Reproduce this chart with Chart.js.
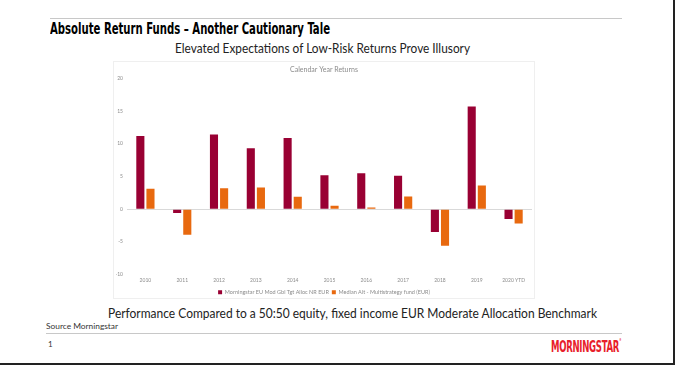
<!DOCTYPE html>
<html>
<head>
<meta charset="utf-8">
<script src="https://cdn.jsdelivr.net/npm/chart.js@4"></script>
<style>
  html, body { margin: 0; padding: 0; background: #fff; }
  #slide { position: relative; width: 675px; height: 365px; overflow: hidden; background: #fff; }
  .abs { position: absolute; white-space: nowrap; line-height: 1; }
  .rule { position: absolute; height: 1px; background: #c8c8c8; }
  #title { left: 50px; top: 19px; font: bold 16px "Liberation Sans Narrow", "DejaVu Sans Condensed", sans-serif; color: #000; }
  #subtitle { left: 175px; top: 40px; font: 13px Lato, "Open Sans", sans-serif; color: #222; }
  #panel { position: absolute; left: 113px; top: 61px; width: 422px; height: 238px; border: 1px solid #efefef; box-sizing: border-box; }
  #chartBox { position: absolute; left: 113px; top: 61px; width: 422px; height: 244px; }
  #caption { left: 108px; top: 305px; font: 13px Lato, "Open Sans", sans-serif; color: #222; }
  #source { left: 46px; top: 321px; font: 8px Lato, "Open Sans", sans-serif; color: #333; }
  #page { left: 48px; top: 339px; font: 8px Lato, "Open Sans", sans-serif; color: #333; }
  #logo { left: 551px; top: 337px; font: bold 16px "Liberation Sans Narrow", "DejaVu Sans Condensed", sans-serif; color: #e8202a; letter-spacing: -0.5px; }
  #logo sup { font-size: 4px; vertical-align: top; }
  #frameR { position: absolute; left: 673px; top: 0; width: 2px; height: 365px; background: #222; }
  #frameB { position: absolute; left: 0; top: 363px; width: 675px; height: 2px; background: #222; }
</style>
</head>
<body>
<div id="slide">
  <div class="rule" style="left:50px; top:18px; width:572px;"></div>
  <div id="title" class="abs" data-w="280">Absolute Return Funds – Another Cautionary Tale</div>
  <div id="subtitle" class="abs" data-w="295">Elevated Expectations of Low-Risk Returns Prove Illusory</div>
  <div id="panel"></div>
  <div id="chartBox"><canvas id="chart"></canvas></div>
  <div id="caption" class="abs" data-w="489">Performance Compared to a 50:50 equity, fixed income EUR Moderate Allocation Benchmark</div>
  <div id="source" class="abs" data-w="72">Source Morningstar</div>
  <div class="rule" style="left:46px; top:333px; width:576px;"></div>
  <div id="page" class="abs">1</div>
  <div id="logo" class="abs" data-w="70">MORNINGSTAR<sup>®</sup></div>
  <div id="frameR"></div>
  <div id="frameB"></div>
</div>
<script>
// Calendar year returns (%)
const years = ['2010', '2011', '2012', '2013', '2014', '2015', '2016', '2017', '2018', '2019', '2020 YTD'];
const benchmarkReturns = [11.2, -0.6, 11.4, 9.3, 10.9, 5.2, 5.5, 5.1, -3.5, 15.7, -1.5];
const multistrategyReturns = [3.1, -3.9, 3.2, 3.3, 1.9, 0.5, 0.25, 1.95, -5.6, 3.6, -2.2];
const yTicks = [-10, -5, 0, 5, 10, 15, 20];

const benchmarkLabel = 'Morningstar EU Mod Gbl Tgt Alloc NR EUR';
const multistrategyLabel = 'Median Alt - Multistrategy fund (EUR)';

// squeeze text blocks to the widths seen on the slide
document.querySelectorAll('[data-w]').forEach(el => {
    const target = parseFloat(el.dataset.w);
    const actual = el.getBoundingClientRect().width;
    if (actual > 0) {
        el.style.transformOrigin = 'left top';
        el.style.transform = 'scaleX(' + (target / actual) + ')';
    }
});

const grey = '#8c8c8c';
const chartFont = 'Lato, "Open Sans", sans-serif';

const ctx = document.getElementById('chart').getContext('2d');
new Chart(ctx, {
    type: 'bar',
    data: {
        labels: years,
        datasets: [
            {
                label: benchmarkLabel,
                data: benchmarkReturns,
                backgroundColor: '#990033',
                categoryPercentage: 0.55,
                barPercentage: 0.8
            },
            {
                label: multistrategyLabel,
                data: multistrategyReturns,
                backgroundColor: '#e8690f',
                categoryPercentage: 0.55,
                barPercentage: 0.8
            }
        ]
    },
    options: {
        responsive: true,
        maintainAspectRatio: false,
        animation: false,
        layout: {
            padding: { top: 0, right: 3, bottom: 0, left: 3 }
        },
        scales: {
            x: {
                grid: { display: false, drawTicks: false },
                border: { display: false },
                ticks: {
                    color: grey,
                    font: { size: 5, family: chartFont },
                    maxRotation: 0,
                    autoSkip: false,
                    padding: 3
                }
            },
            y: {
                min: -10,
                max: 20,
                afterBuildTicks: scale => {
                    scale.ticks = yTicks.map(v => ({ value: v }));
                },
                afterFit: scale => {
                    scale.width = 11;
                },
                border: { display: false },
                grid: {
                    color: c => (c.tick && c.tick.value === 0) ? '#d9d9d9' : 'rgba(0,0,0,0)',
                    drawTicks: false
                },
                ticks: {
                    color: grey,
                    font: { size: 5, family: chartFont },
                    padding: 4
                }
            }
        },
        plugins: {
            title: {
                display: true,
                text: 'Calendar Year Returns',
                color: grey,
                font: { size: 7, weight: 'normal', family: chartFont },
                padding: { top: 5, bottom: 4 }
            },
            legend: {
                display: true,
                position: 'bottom',
                labels: {
                    color: grey,
                    font: { size: 5.5, family: chartFont },
                    boxWidth: 4,
                    boxHeight: 4,
                    padding: 3
                }
            },
            tooltip: { enabled: false }
        }
    }
});
</script>
</body>
</html>
